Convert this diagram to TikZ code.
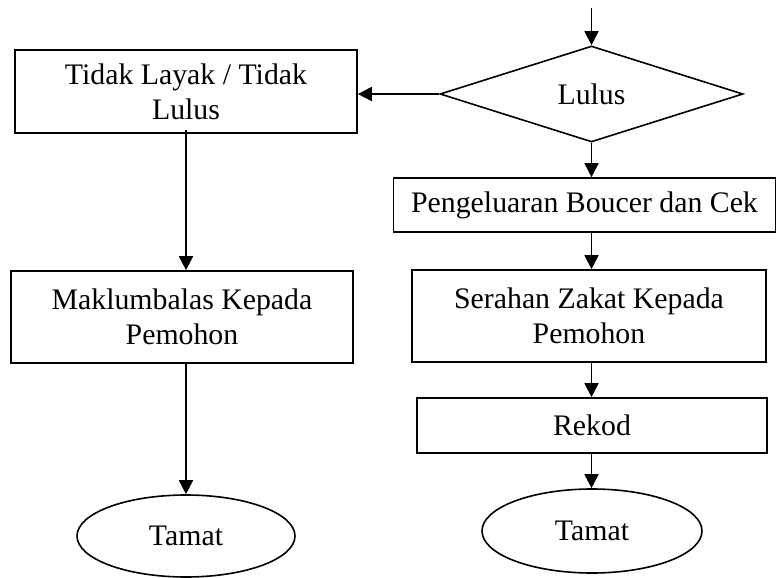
\documentclass[tikz,border=0pt]{standalone}
\usepackage{fontspec}
\setmainfont{Liberation Serif}
\usetikzlibrary{shapes.geometric,arrows.meta}
\begin{document}
\begin{tikzpicture}[x=1pt,y=-1pt,
  every node/.style={font=\fontsize{29.8}{35}\selectfont, inner sep=0pt, line width=1.6pt, align=center},
  box/.style={draw, rectangle},
  decision/.style={draw, diamond},
  terminal/.style={draw, ellipse},
  conn/.style={line width=1.6pt, -{Triangle[width=14pt,length=14pt]}}]
\useasboundingbox (0,0) rectangle (777,578);
\node[box, minimum width=342pt, minimum height=83pt] (b1) at (186,91.5) {Tidak Layak / Tidak\\Lulus};
\node[box, minimum width=342pt, minimum height=92pt] (b2) at (182,317) {Maklumbalas Kepada\\Pemohon};
\node[terminal, minimum width=218pt, minimum height=82pt] (e1) at (186,536) {Tamat};
\node[decision, minimum width=303pt, minimum height=96pt] (d) at (591.5,94) {Lulus};
\node[box, minimum width=382pt, minimum height=54pt] (b3) at (584.5,205) {Pengeluaran Boucer dan Cek};
\node[box, minimum width=354pt, minimum height=92pt] (b4) at (589,316) {Serahan Zakat Kepada\\Pemohon};
\node[box, minimum width=350pt, minimum height=55pt] (b5) at (592,425.5) {Rekod};
\node[terminal, minimum width=220pt, minimum height=84pt] (e2) at (592,531) {Tamat};
\coordinate (start) at (591.5,8);
\draw[conn] (start) -- (d.north);
\draw[conn] (d.west) -- (d.west -| b1.east);
\draw[conn] ([yshift=4pt]b1.south) -- (b1.south |- b2.north);
\draw[conn] (b2.south -| e1.north) -- (e1.north);
\draw[conn] (d.south) -- (d.south |- b3.north);
\draw[conn] (d.south |- b3.south) -- (d.south |- b4.north);
\draw[conn] (d.south |- b4.south) -- (d.south |- b5.north);
\draw[conn] (d.south |- b5.south) -- (d.south |- e2.north);
\end{tikzpicture}
\end{document}
